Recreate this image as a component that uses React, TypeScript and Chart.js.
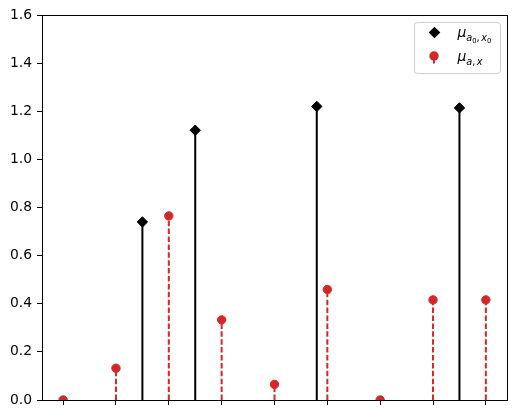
import React, { useEffect, useRef } from "react";
import { Chart, registerables } from "chart.js";

Chart.register(...registerables);

// ---- data ----
const redX = [0, 1, 2, 3, 4, 5, 6, 7, 8];
const redY = [0, 0.132, 0.765, 0.333, 0.065, 0.459, 0, 0.416, 0.416];
const blackX = [1.5, 2.5, 4.8, 7.5];
const blackY = [0.74, 1.121, 1.22, 1.214];
const xTicks = [0, 1, 2, 3, 4, 5, 6, 7, 8];
const yTicks = [0, 0.2, 0.4, 0.6, 0.8, 1.0, 1.2, 1.4, 1.6];
const xRange = [-0.4, 8.4];
const yRange = [0, 1.6];

const RED = "#d62728";
const BLACK = "#000000";
const FONT = "'DejaVu Sans', 'Liberation Sans', sans-serif";

function stems(xs: number[], ys: number[]) {
  const out: { x: number; y: number | null }[] = [];
  xs.forEach((x, i) => {
    out.push({ x, y: 0 }, { x, y: ys[i] }, { x, y: null });
  });
  return out;
}

const frameAndLegend = {
  id: "frameAndLegend",
  afterDatasetsDraw(chart: any) {
    const { ctx, chartArea } = chart;
    ctx.save();
    ctx.strokeStyle = "#000";
    ctx.lineWidth = 1;
    const l = Math.round(chartArea.left) + 0.5;
    const t = Math.round(chartArea.top) + 0.5;
    const r = Math.round(chartArea.right) + 0.5;
    const b = Math.round(chartArea.bottom) + 0.5;
    ctx.strokeRect(l, t, r - l, b - t);
    ctx.restore();
  },
  afterDraw(chart: any) {
    const { ctx, chartArea } = chart;
    ctx.save();
    // legend box
    const bw = 86, bh = 51;
    const bx = chartArea.right - 7 - bw + 0.5;
    const by = chartArea.top + 7 + 0.5;
    const rad = 3;
    ctx.beginPath();
    ctx.moveTo(bx + rad, by);
    ctx.lineTo(bx + bw - rad, by);
    ctx.arcTo(bx + bw, by, bx + bw, by + rad, rad);
    ctx.lineTo(bx + bw, by + bh - rad);
    ctx.arcTo(bx + bw, by + bh, bx + bw - rad, by + bh, rad);
    ctx.lineTo(bx + rad, by + bh);
    ctx.arcTo(bx, by + bh, bx, by + bh - rad, rad);
    ctx.lineTo(bx, by + rad);
    ctx.arcTo(bx, by, bx + rad, by, rad);
    ctx.closePath();
    ctx.fillStyle = "rgba(255,255,255,0.8)";
    ctx.fill();
    ctx.strokeStyle = "#cccccc";
    ctx.lineWidth = 1;
    ctx.stroke();

    // handles
    const hx1 = bx + 20, hy1 = by + 10;
    const hx2 = bx + 19.5, hy2 = by + 33.5;
    // black diamond
    const d = 5.8;
    ctx.beginPath();
    ctx.moveTo(hx1, hy1 - d);
    ctx.lineTo(hx1 + d, hy1);
    ctx.lineTo(hx1, hy1 + d);
    ctx.lineTo(hx1 - d, hy1);
    ctx.closePath();
    ctx.fillStyle = BLACK;
    ctx.fill();
    // red stem + circle
    ctx.strokeStyle = RED;
    ctx.lineWidth = 2;
    ctx.beginPath();
    ctx.moveTo(hx2, hy2);
    ctx.lineTo(hx2, hy2 + 7.5);
    ctx.stroke();
    ctx.beginPath();
    ctx.arc(hx2, hy2, 4.7, 0, Math.PI * 2);
    ctx.fillStyle = RED;
    ctx.fill();

    // labels
    ctx.fillStyle = "#000";
    ctx.textBaseline = "alphabetic";
    ctx.textAlign = "left";
    const put = (txt: string, font: string, x: number, y: number) => {
      ctx.font = font;
      ctx.fillText(txt, x, y);
      return x + ctx.measureText(txt).width;
    };
    const big = `italic 13.9px ${FONT}`;
    const subI = `italic 9.7px ${FONT}`;
    const subR = `9.7px ${FONT}`;
    const sub2 = `6.8px ${FONT}`;
    let x = bx + 43;
    let b1 = by + 14.5;
    x = put("\u03bc", big, x, b1);
    x = put("a", subI, x, b1 + 4);
    x = put("0", sub2, x, b1 + 5.5);
    x = put(",", subR, x, b1 + 4) + 1.5;
    x = put("x", subI, x, b1 + 4);
    x = put("0", sub2, x, b1 + 5.5);

    x = bx + 43;
    const b2 = by + 38;
    x = put("\u03bc", big, x, b2);
    x = put("a", subI, x, b2 + 4);
    x = put(",", subR, x, b2 + 4) + 1.5;
    x = put("x", subI, x, b2 + 4);
    ctx.restore();
  },
};

export default function App() {
  const ref = useRef<HTMLCanvasElement | null>(null);
  useEffect(() => {
    document.body.style.margin = "0";
    const canvas = ref.current!;
    const chart = new Chart(canvas, {
      type: "scatter",
      data: {
        datasets: [
          {
            label: "black markers",
            data: blackX.map((x, i) => ({ x, y: blackY[i] })),
            showLine: false,
            pointStyle: "rectRot",
            pointRadius: 5.2,
            pointBorderWidth: 1,
            backgroundColor: BLACK,
            borderColor: BLACK,
            clip: 0,
          } as any,
          {
            label: "red markers",
            data: redX.map((x, i) => ({ x, y: redY[i] })),
            showLine: false,
            pointStyle: "circle",
            pointRadius: 4.2,
            pointBorderWidth: 1,
            backgroundColor: RED,
            borderColor: RED,
            clip: 0,
          } as any,
          {
            label: "black stems",
            data: stems(blackX, blackY),
            showLine: true,
            spanGaps: false,
            pointRadius: 0,
            borderColor: BLACK,
            borderWidth: 2,
            borderCapStyle: "butt",
            tension: 0,
            clip: 0,
          } as any,
          {
            label: "red stems",
            data: stems(redX, redY),
            showLine: true,
            spanGaps: false,
            pointRadius: 0,
            borderColor: RED,
            borderWidth: 2,
            borderDash: [5.5, 2.4],
            borderCapStyle: "butt",
            tension: 0,
            clip: 0,
          } as any,
        ],
      },
      options: {
        animation: false,
        responsive: false,
        maintainAspectRatio: false,
        events: [],
        layout: { padding: { top: 15, right: 9, left: 0, bottom: 0 } },
        plugins: {
          legend: { display: false },
          tooltip: { enabled: false },
          title: { display: false },
        },
        scales: {
          x: {
            type: "linear",
            min: xRange[0],
            max: xRange[1],
            afterBuildTicks: (s: any) => {
              s.ticks = xTicks.map((v) => ({ value: v }));
            },
            afterFit: (s: any) => {
              s.height = 18;
            },
            ticks: { display: false },
            grid: {
              drawOnChartArea: false,
              drawTicks: true,
              tickLength: 5,
              tickColor: "#000",
              tickWidth: 1,
            },
            border: { display: false },
          },
          y: {
            type: "linear",
            min: yRange[0],
            max: yRange[1],
            afterBuildTicks: (s: any) => {
              s.ticks = yTicks.map((v) => ({ value: v }));
            },
            afterFit: (s: any) => {
              s.width = 42;
            },
            ticks: {
              padding: 5,
              color: "#000",
              font: { family: FONT, size: 13.9 },
              callback: (v: any) => Number(v).toFixed(1),
            },
            grid: {
              drawOnChartArea: false,
              drawTicks: true,
              tickLength: 5,
              tickColor: "#000",
              tickWidth: 1,
            },
            border: { display: false },
          },
        },
      } as any,
      plugins: [frameAndLegend],
    });
    return () => chart.destroy();
  }, []);
  return (
    <div style={{ width: 516, height: 418, position: "relative" }}>
      <canvas ref={ref} width={516} height={418} />
    </div>
  );
}
